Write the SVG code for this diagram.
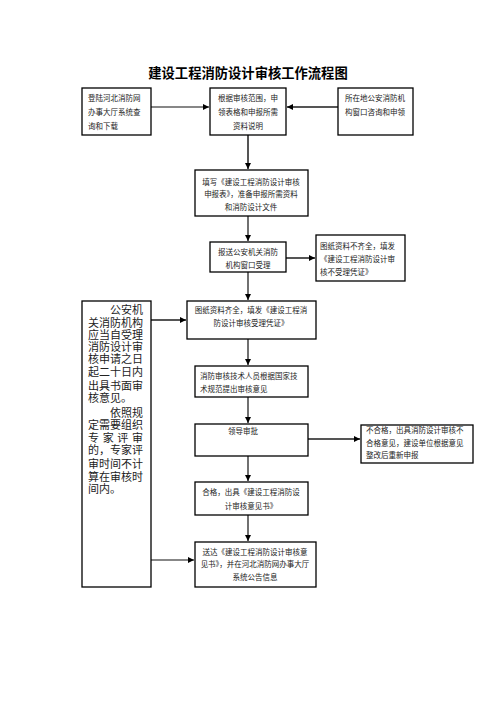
<svg xmlns="http://www.w3.org/2000/svg" width="496" height="702" viewBox="0 0 496 702">
<style>
.b{fill:#fff;stroke:#000;stroke-width:1.3}
.t{font-family:"Liberation Serif","Noto Sans CJK SC",serif;font-size:7.5px;fill:#222}
.c{text-anchor:middle}
.v{font-family:"Liberation Serif","Noto Sans CJK SC",serif;font-size:11px;fill:#222}
.k{stroke:#111;stroke-width:1.2;fill:none}
.g{stroke:#555;stroke-width:2;fill:none}
</style>
<defs>
<marker id="a" viewBox="0 0 10 10" refX="10" refY="5" markerWidth="6" markerHeight="6" markerUnits="userSpaceOnUse" orient="auto"><path d="M0,0L10,5L0,10z" fill="#000"/></marker>
</defs>
<rect width="496" height="702" fill="#fff"/>
<text x="248" y="78" text-anchor="middle" font-family="Liberation Serif,'Noto Sans CJK SC',serif" font-size="13.3" font-weight="bold" fill="#000">建设工程消防设计审核工作流程图</text>
<g id="connectors">
<path class="k" d="M151,107H209" marker-end="url(#a)"/>
<path class="g" d="M338,107H287" marker-end="url(#a)"/>
<path class="g" d="M248,135V169" marker-end="url(#a)"/>
<path class="k" d="M248,216V241" marker-end="url(#a)"/>
<path class="g" d="M286,258H315" marker-end="url(#a)"/>
<path class="k" d="M248,272V300" marker-end="url(#a)"/>
<path class="g" d="M151,320H186" marker-end="url(#a)"/>
<path class="k" d="M248,339V365" marker-end="url(#a)"/>
<path class="k" d="M248,397V423" marker-end="url(#a)"/>
<path class="g" d="M308,439H360" marker-end="url(#a)"/>
<path class="k" d="M248,456V481" marker-end="url(#a)"/>
<path class="k" d="M248,515V541" marker-end="url(#a)"/>
<path class="k" d="M151,560H194" marker-end="url(#a)"/>
</g>
<g id="n1"><rect class="b" x="82" y="88" width="69" height="47"/>
<text class="t" x="88" y="101">登陆河北消防网</text><text class="t" x="88" y="115">办事大厅系统查</text><text class="t" x="88" y="129">询和下载</text></g>
<g id="n2"><rect class="b" x="210" y="88" width="76" height="47"/>
<text class="t c" x="248" y="101">根据审核范围，申</text><text class="t c" x="248" y="115">领表格和申报所需</text><text class="t c" x="248" y="129">资料说明</text></g>
<g id="n3"><rect class="b" x="338" y="88" width="75" height="47"/>
<text class="t" x="345" y="101">所在地公安消防机</text><text class="t" x="345" y="115">构窗口咨询和申领</text></g>
<g id="n4"><rect class="b" x="195" y="170" width="113" height="46"/>
<text class="t c" x="251" y="185">填写《建设工程消防设计审核</text><text class="t c" x="251" y="197">申报表》，准备申报所需资料</text><text class="t c" x="251" y="210">和消防设计文件</text></g>
<g id="n5"><rect class="b" x="210" y="242" width="76" height="30"/>
<text class="t c" x="248" y="255">报送公安机关消防</text><text class="t c" x="248" y="268">机构窗口受理</text></g>
<g id="n6"><rect class="b" x="316" y="235" width="89" height="46"/>
<text class="t" x="320" y="249">图纸资料不齐全，填发</text><text class="t" x="320" y="262">《建设工程消防设计审</text><text class="t" x="320" y="275">核不受理凭证》</text></g>
<g id="n7"><rect class="b" x="82" y="301" width="69" height="286"/>
<text class="v" x="110" y="314" textLength="33" lengthAdjust="spacing">公安机</text>
<text class="v" x="88" y="327" textLength="55" lengthAdjust="spacing">关消防机构</text>
<text class="v" x="88" y="339" textLength="55" lengthAdjust="spacing">应当自受理</text>
<text class="v" x="88" y="351" textLength="55" lengthAdjust="spacing">消防设计审</text>
<text class="v" x="88" y="363" textLength="55" lengthAdjust="spacing">核申请之日</text>
<text class="v" x="88" y="376" textLength="55" lengthAdjust="spacing">起二十日内</text>
<text class="v" x="88" y="390" textLength="55" lengthAdjust="spacing">出具书面审</text>
<text class="v" x="88" y="402">核意见。</text>
<text class="v" x="110" y="417" textLength="33" lengthAdjust="spacing">依照规</text>
<text class="v" x="88" y="429" textLength="55" lengthAdjust="spacing">定需要组织</text>
<text class="v" x="88" y="442" textLength="55" lengthAdjust="spacing">专家评审</text>
<text class="v" x="88" y="454" textLength="55" lengthAdjust="spacing">的，专家评</text>
<text class="v" x="88" y="468" textLength="55" lengthAdjust="spacing">审时间不计</text>
<text class="v" x="88" y="481" textLength="55" lengthAdjust="spacing">算在审核时</text>
<text class="v" x="88" y="493">间内。</text></g>
<g id="n8"><rect class="b" x="187" y="301" width="129" height="38"/>
<text class="t c" x="251" y="313">图纸资料齐全，填发《建设工程消</text><text class="t c" x="251" y="326">防设计审核受理凭证》</text></g>
<g id="n9"><rect class="b" x="195" y="366" width="113" height="31"/>
<text class="t" x="200" y="379">消防审核技术人员根据国家技</text><text class="t" x="200" y="392">术规范提出审核意见</text></g>
<g id="n10"><rect class="b" x="195" y="424" width="113" height="32"/>
<text class="t c" x="243" y="434">领导审批</text></g>
<g id="n11"><rect class="b" x="361" y="425" width="112" height="38"/>
<text class="t" x="366" y="433">不合格，出具消防设计审核不</text><text class="t" x="366" y="446">合格意见，建设单位根据意见</text><text class="t" x="366" y="458">整改后重新申报</text></g>
<g id="n12"><rect class="b" x="195" y="482" width="113" height="33"/>
<text class="t c" x="251" y="495">合格，出具《建设工程消防设</text><text class="t c" x="251" y="509">计审核意见书》</text></g>
<g id="n13"><rect class="b" x="195" y="542" width="121" height="45"/>
<text class="t c" x="255" y="555">送达《建设工程消防设计审核意</text><text class="t c" x="255" y="567">见书》，并在河北消防网办事大厅</text><text class="t c" x="255" y="580">系统公告信息</text></g>
</svg>
